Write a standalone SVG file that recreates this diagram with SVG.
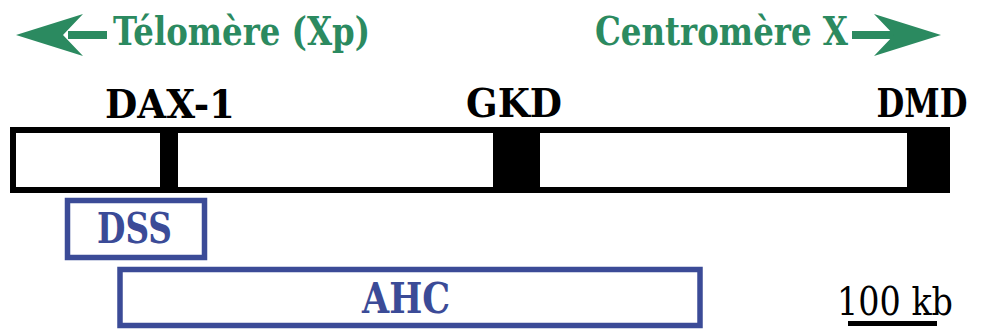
<svg xmlns="http://www.w3.org/2000/svg" width="982" height="329" viewBox="0 0 982 329">
<style>
text{font-family:'DejaVu Serif',serif}
.g{fill:#2b8a60;font-weight:bold;font-size:40px}
.k{fill:#000;font-weight:bold;font-size:40px}
.b{fill:#3b4b97;font-weight:bold;font-size:42px}
.r{fill:#000;font-size:40px}
.bx{fill:none;stroke:#3b4b97;stroke-width:5.5}
</style>
<rect width="982" height="329" fill="#fff"/>
<g id="telomere">
<polygon points="16,35 83,14 63,35 83,56" fill="#2b8a60"/>
<rect x="68" y="31" width="39" height="8" fill="#2b8a60"/>
<text class="g" x="113" y="45" textLength="257" lengthAdjust="spacingAndGlyphs">Télomère (Xp)</text>
</g>
<g id="centromere">
<text class="g" x="595" y="45" textLength="253" lengthAdjust="spacingAndGlyphs">Centromère X</text>
<rect x="852" y="31" width="42" height="8" fill="#2b8a60"/>
<polygon points="941,35 874,14 894,35 874,56" fill="#2b8a60"/>
</g>
<g id="chromosome">
<rect x="13" y="130" width="934" height="60" fill="#fff" stroke="#000" stroke-width="6"/>
<rect x="160" y="130" width="18" height="60" fill="#000"/>
<rect x="493" y="130" width="47" height="60" fill="#000"/>
<rect x="907" y="130" width="43" height="60" fill="#000"/>
</g>
<g id="dax1"><text class="k" x="105" y="118" textLength="130" lengthAdjust="spacingAndGlyphs">DAX-1</text></g>
<g id="gkd"><text class="k" x="466" y="117" textLength="96" lengthAdjust="spacingAndGlyphs">GKD</text></g>
<g id="dmd"><text class="k" x="922" y="117" text-anchor="middle" transform="translate(922 117) scale(0.8 1) translate(-922 -117)">DMD</text></g>
<g id="dss">
<rect class="bx" x="67.5" y="200.5" width="137" height="57"/>
<text class="b" x="97" y="243" textLength="75" lengthAdjust="spacingAndGlyphs">DSS</text>
</g>
<g id="ahc">
<rect class="bx" x="120" y="269.5" width="580" height="56"/>
<text class="b" x="362" y="313" textLength="88" lengthAdjust="spacingAndGlyphs">AHC</text>
</g>
<g id="scale">
<text class="r" x="837" y="315" textLength="116" lengthAdjust="spacingAndGlyphs">100 kb</text>
<rect x="848" y="321" width="89" height="5" fill="#000"/>
</g>
</svg>
